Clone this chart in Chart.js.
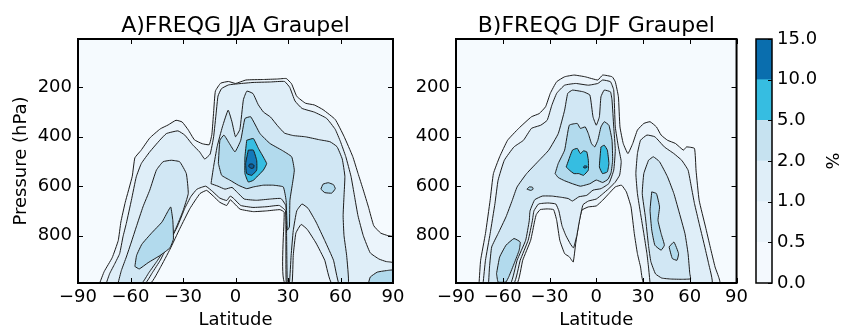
<!DOCTYPE html>
<html>
<head>
<meta charset="utf-8">
<script src="https://cdn.jsdelivr.net/npm/chart.js@4.4.1/dist/chart.umd.min.js"></script>
<style>
  html, body { margin: 0; padding: 0; background: #fff; }
  #wrap { position: relative; width: 842px; height: 331px; overflow: hidden; }
  #wrap canvas { position: absolute; top: 0; }
</style>
</head>
<body>
<div id="wrap">
  <canvas id="jja" width="420" height="331" style="left:0"></canvas>
  <canvas id="djf" width="352" height="331" style="left:400px"></canvas>
  <canvas id="cbar" width="90" height="331" style="left:752px"></canvas>
</div>
<script>
// axes
const latTicks = [-90, -60, -30, 0, 30, 60, 90];
const pressureTicks = [200, 400, 600, 800];
const levelLabels = ['0.0', '0.5', '1.0', '2.0', '5.0', '10.0', '15.0'];
const barColors = ['#f4f9fe', '#ebf4fb', '#dfeef8', '#c6e2f0', '#36bde1', '#0a6eae'];
// fill used inside a contour of level index n (0 = background)
const plotFills = ['#f5fafe', '#ebf4fb', '#dfeef8', '#d1e7f4', '#b2daed', '#36bde1', '#1379b9', '#0c5c98'];

// ---- A) JJA contours, [latitude, pressure] ----
const jjaL1 = [[-77.6,992],[-75,945],[-70.5,890],[-67,820],[-65.5,745],[-63,665],[-59,560],[-57.5,485],[-54,455],[-49,405],[-43,368],[-38.5,352],[-34,333],[-30.5,340],[-27,372],[-23.5,412],[-19,428],[-15,432],[-13.5,390],[-12.5,300],[-11.5,215],[-8.5,183],[-4,176],[0,184],[6,170],[16,168],[24,166],[29,164],[32,185],[35,236],[40,264],[45,271],[50,290],[57,330],[62,398],[67,480],[70,548],[73,615],[76,685],[79,760],[83,790],[87,800],[90,805],[90,992],
  [28.3,992],[27.8,705],[25.4,695],[17.8,700],[10.2,703],[2.6,693],[-1,668],[-3,655],[-5,678],[-9,665],[-12.7,640],[-16.5,617],[-20.3,630],[-26,690],[-31.7,770],[-37.4,855],[-43,930],[-48.5,992]];
const jjaL2 = [[-73.8,992],[-71.9,954],[-69,914],[-66.2,873],[-64.3,805],[-62.4,751],[-59.5,657],[-56.7,562],[-53.8,508],[-49,461],[-43.3,414],[-39.5,387],[-32.9,376],[-29,393],[-24.3,434],[-20.5,461],[-17.6,490],[-14.5,470],[-12.5,400],[-11,300],[-10,235],[-8,205],[-4,190],[2,185],[10,180],[20,178],[28,176],[31,200],[34,255],[38,285],[45,300],[52,325],[57,370],[60,420],[63,480],[66,560],[68,640],[70,720],[73,800],[77,870],[82,895],[86,905],[90,910],[90,992],
  [55,992],[51,900],[46,830],[41,775],[37.5,755],[34.5,790],[33,880],[32.3,992],
  [29,992],[28.6,700],[25,678],[18,683],[10,686],[3,678],[-1,650],[-3,640],[-5,658],[-9,648],[-13,622],[-17,600],[-22,612],[-25.5,642],[-29,690],[-33,760],[-38,830],[-43,900],[-47.5,950],[-51.5,992]];
const jjaL3a = [[-67.1,992],[-65.2,941],[-62.4,887],[-59.5,826],[-56.7,765],[-52.9,684],[-49,616],[-45.2,535],[-41.4,501],[-36.7,495],[-31.9,501],[-28.1,549],[-27,630],[-30,700],[-34,770],[-39,840],[-45,905],[-49.5,950],[-53.5,992]];
const jjaL3b = [[-14,590],[-12.5,520],[-10.5,440],[-7.5,360],[-4.2,292],[-2,340],[0,400],[2.5,370],[4.5,250],[6.5,215],[10,225],[13,270],[16,300],[20,320],[24,355],[28,385],[33,395],[40,400],[48,412],[54,420],[58,440],[61,490],[62.5,560],[62,640],[61.5,720],[62,800],[63.5,880],[64.5,992],
  [59,992],[56,900],[51,820],[46,745],[41.5,690],[38,672],[35,700],[33,780],[31.8,880],[30.8,992],
  [29.6,992],[29.2,800],[28.8,680],[26,650],[20,652],[12,657],[5,652],[1,625],[-2,605],[-6,612],[-10,600]];
const jjaL4a = [[-57.5,925],[-56.5,880],[-53.5,835],[-48,790],[-42,745],[-38.5,700],[-37,684],[-35.8,740],[-35.5,815],[-37.5,850],[-43,880],[-50,910],[-55,935]];
const jjaL4b = [[-9.8,508],[-8.9,414],[-6.6,393],[-3.5,427],[-0.3,461],[3,414],[5.4,326],[8.7,319],[14,387],[19.7,427],[26.4,454],[32.1,481],[33.6,535],[32.7,583],[31.1,657],[30.8,765],[29.6,778],[28.9,657],[27.3,603],[21.6,596],[15.9,596],[10.2,603],[6.4,610],[1.6,596],[-3.1,576],[-7.9,556]];
const jjaL4c = [[48.8,612],[50,592],[53,586],[56,594],[57,610],[55,628],[51,626]];
const jjaL4d = [[76,992],[77,968],[81,948],[86,942],[90,940],[90,992]];
const jjaL5 = [[6.4,414],[10.2,407],[13.1,447],[17.8,508],[15.9,535],[10.2,576],[7.3,583],[5.4,549],[5.4,481]];
const jjaL6 = [[7.3,454],[10.2,454],[12.1,495],[12.1,535],[9.3,556],[6.4,549],[5.8,508]];
const jjaL7 = [[7.5,519],[8,511],[9.5,510],[10.6,516],[10.3,526],[8.8,528]];

// ---- B) DJF contours ----
const djfL1 = [[-75.2,992],[-74.2,900],[-71.1,792],[-68.1,657],[-66,549],[-62,481],[-56.9,414],[-49.8,366],[-41.6,319],[-36.6,306],[-32.5,278],[-29.5,224],[-25.4,177],[-20.3,157],[-14.2,150],[-7.1,157],[1,170],[4.1,150],[10.2,157],[12.2,177],[14.2,238],[15.2,360],[17.3,427],[20.3,468],[23.4,427],[26.4,373],[30.5,346],[34.5,339],[38.6,360],[41.6,393],[45.7,414],[50.8,427],[55.9,454],[57.9,441],[63,447],[64,535],[66,657],[70.1,765],[73.1,846],[76.2,927],[79.2,992],
  [30.5,992],[28.4,927],[26.4,873],[24.4,792],[22.3,684],[19.3,623],[16.2,596],[12.2,603],[8.1,630],[4.1,657],[0,680],[-5.1,684],[-9.2,697],[-11.2,751],[-13.2,832],[-14.8,907],[-17.3,886],[-20.3,873],[-23.4,819],[-25.4,738],[-27.4,695],[-31.5,692],[-36,695],[-38.5,715],[-39.5,740],[-42.1,819],[-47.2,900],[-50.8,992]];
const djfL2a = [[-72.6,992],[-71.1,900],[-68.1,792],[-65,670],[-63,576],[-59,495],[-52.8,441],[-46.7,414],[-41.6,366],[-35.6,353],[-31.5,333],[-28.5,272],[-25.4,224],[-20.3,191],[-13.2,184],[-5.1,191],[1,184],[4.1,170],[9.1,177],[11.2,211],[12.2,360],[14.2,441],
  [16,500],[15,555],[12,585],[8,610],[4,632],[0,652],[-5,660],[-8.5,675],[-10.5,730],[-12.5,800],[-14.6,850],[-16.5,835],[-19.5,800],[-22,760],[-24,700],[-26,672],[-31,668],[-37,672],[-40,700],[-41,740],[-43.7,819],[-48.8,900],[-52.8,992]];
const djfL2b = [[34.5,992],[33.5,927],[32.5,873],[30.5,792],[28.4,711],[26.4,630],[25.4,549],[26.4,468],[28.4,414],[32.5,393],[37.6,400],[43.7,441],[49.8,468],[54.8,495],[58.9,535],[61,603],[63,670],[66,751],[69.1,832],[72.1,914],[74.2,992]];
const djfL3a = [[-69.1,992],[-68.5,927],[-67.1,846],[-63,792],[-57.9,724],[-53.9,657],[-50.8,603],[-44.7,549],[-36.6,495],[-30.5,454],[-24.4,387],[-20.3,292],[-18.3,224],[-15.3,211],[-8.2,218],[-4.1,231],[-2.1,319],[0,353],[2,319],[3,238],[5.1,211],[9.1,218],[10.1,251],[11.2,360],[12.2,454],
  [11.2,535],[8.1,589],[3,610],[-2.1,616],[-6.1,637],[-11.2,643],[-15.3,660],[-18,650],[-22.4,645],[-28.5,640],[-34.6,640],[-39.5,655],[-42.5,700],[-43,740],[-45.3,819],[-50.8,900],[-54.9,992]];
const djfL3b = [[33.5,495],[36.6,481],[40.6,501],[45.7,562],[49.8,630],[52.8,697],[56.9,792],[58.9,873],[60,954],[60.5,975],[55,977],[48,976],[42,972],[38,955],[35,905],[33.5,840],[31.5,724],[29.5,630],[30.5,549]];
const djfL4a = [[-64,954],[-62,887],[-57.9,839],[-52.8,812],[-48.8,826],[-49.5,860],[-52.5,910],[-56,965],[-58,988],[-63,988]];
const djfL4b = [[-44.5,612],[-43,603],[-41,604],[-40.5,612],[-42,617]];
const djfL4c = [[-26.4,549],[-24.4,508],[-20.3,454],[-17.3,353],[-12.2,346],[-10.2,366],[-7.1,360],[-5.1,387],[-3.1,427],[-1,441],[1,414],[3,360],[5.1,339],[8.1,353],[10.1,414],[10.5,495],[9.5,545],[7.5,572],[4.1,585],[0,575],[-4.1,590],[-10.2,600],[-15.3,590],[-20.3,578],[-24.4,565]];
const djfL4d = [[35.6,623],[38.6,630],[40.6,684],[39.6,738],[41.6,792],[43.7,839],[41.6,859],[37.6,839],[35.6,778],[34.5,697]];
const djfL4e = [[46.7,846],[49.8,826],[52.8,873],[51.8,900],[48.8,893]];
const djfL5a = [[-19.3,522],[-15.3,454],[-12.2,447],[-10.2,468],[-8.2,457],[-6.1,461],[-5.1,495],[-5.1,535],[-8.2,556],[-11.2,549],[-14.3,549],[-17.3,535]];
const djfL5b = [[3,441],[5.1,434],[7.1,454],[8.1,508],[7.1,542],[4,549],[2,522]];
const djfL6 = [[-8.3,522],[-7.6,518],[-6.2,518],[-5.9,523],[-6.8,526],[-7.9,526]];

const jjaShapes = [[1, jjaL1], [2, jjaL2], [3, jjaL3a], [3, jjaL3b], [4, jjaL4a], [4, jjaL4b], [4, jjaL4c], [4, jjaL4d], [5, jjaL5], [6, jjaL6], [7, jjaL7]];
const djfShapes = [[1, djfL1], [2, djfL2a], [2, djfL2b], [3, djfL3a], [3, djfL3b], [4, djfL4a], [4, djfL4b], [4, djfL4c], [4, djfL4d], [4, djfL4e], [5, djfL5a], [5, djfL5b], [6, djfL6]];

Chart.defaults.font.family = '"DejaVu Sans", sans-serif';
Chart.defaults.color = '#000';

const fmtNum = (v) => String(v).replace('-', '\u2212');

// background, inward ticks, frame and title
const framePlugin = {
  id: 'frame',
  beforeDraw(chart, args, opts) {
    const { ctx, chartArea: a } = chart;
    if (!opts.bg) return;
    ctx.save();
    ctx.fillStyle = opts.bg;
    ctx.fillRect(a.left, a.top, a.right - a.left, a.bottom - a.top);
    ctx.restore();
  },
  afterDraw(chart, args, opts) {
    const { ctx, chartArea: a, scales } = chart;
    const len = 5;
    ctx.save();
    ctx.strokeStyle = '#000';
    ctx.lineWidth = 1;
    ctx.beginPath();
    const sides = opts.sides || [];
    if (sides.includes('x')) {
      scales.x.ticks.forEach((t) => {
        const px = Math.round(scales.x.getPixelForValue(t.value)) + 0.5;
        ctx.moveTo(px, a.bottom); ctx.lineTo(px, a.bottom - len);
        ctx.moveTo(px, a.top); ctx.lineTo(px, a.top + len);
      });
    }
    if (sides.includes('y')) {
      scales.y.ticks.forEach((t) => {
        const py = Math.round(scales.y.getPixelForValue(t.value)) + 0.5;
        ctx.moveTo(a.left, py); ctx.lineTo(a.left + len, py);
        ctx.moveTo(a.right, py); ctx.lineTo(a.right - len, py);
      });
    }
    if (sides.includes('right')) {
      scales.y.ticks.forEach((t) => {
        const py = Math.round(scales.y.getPixelForValue(t.value)) + 0.5;
        ctx.moveTo(a.right, py); ctx.lineTo(a.right - 4, py);
      });
    }
    ctx.stroke();
    ctx.lineWidth = opts.width || 2;
    ctx.strokeRect(a.left, a.top, a.right - a.left, a.bottom - a.top);
    if (opts.title) {
      ctx.fillStyle = '#000';
      ctx.font = '22px "DejaVu Sans"';
      ctx.textAlign = 'center';
      ctx.textBaseline = 'alphabetic';
      ctx.fillText(opts.title, (a.left + a.right) / 2, 31.5);
    }
    ctx.restore();
  }
};

function shapeSet(level, pts) {
  const closed = pts.concat([pts[0]]);
  return {
    data: closed.map(([x, y]) => ({ x, y })),
    backgroundColor: plotFills[level],
    borderColor: '#1c1c1c',
    borderWidth: 1,
    fill: 'shape',
    pointRadius: 0,
    pointHoverRadius: 0,
    tension: 0.12,
    order: 10 - level
  };
}

function panel(id, title, shapes, yWidth, yTitle, padRight) {
  return new Chart(document.getElementById(id), {
    type: 'line',
    data: { datasets: shapes.map(([lv, pts]) => shapeSet(lv, pts)) },
    options: {
      responsive: false,
      animation: false,
      events: [],
      layout: { padding: { left: 0, top: 39, right: padRight, bottom: 0 } },
      plugins: {
        legend: { display: false },
        tooltip: { enabled: false },
        filler: { propagate: false, drawTime: 'beforeDatasetDraw' },
        frame: { bg: plotFills[0], sides: ['x', 'y'], width: 2, title: title }
      },
      scales: {
        x: {
          type: 'linear', min: -90, max: 90,
          afterBuildTicks: (s) => { s.ticks = latTicks.map((v) => ({ value: v })); },
          afterFit: (s) => { s.height = 48; },
          grid: { display: false, drawTicks: false },
          border: { display: false },
          ticks: { callback: fmtNum, font: { size: 18 }, padding: 4, maxRotation: 0, autoSkip: false },
          title: { display: true, text: 'Latitude', font: { size: 18, lineHeight: 1.2 }, padding: { top: 0, bottom: 0 } }
        },
        y: {
          type: 'linear', min: 4, max: 992, reverse: true,
          afterBuildTicks: (s) => { s.ticks = pressureTicks.map((v) => ({ value: v })); },
          afterFit: (s) => { s.width = yWidth; },
          grid: { display: false, drawTicks: false },
          border: { display: false },
          ticks: { font: { size: 18 }, padding: 6, autoSkip: false },
          title: { display: yTitle, text: 'Pressure (hPa)', font: { size: 18, lineHeight: 1.2 }, padding: { top: 11, bottom: 0 } }
        }
      }
    },
    plugins: [framePlugin]
  });
}

panel('jja', 'A)FREQG JJA Graupel', jjaShapes, 78, true, 27);
panel('djf', 'B)FREQG DJF Graupel', djfShapes, 56, false, 1);

// colour bar
new Chart(document.getElementById('cbar'), {
  type: 'bar',
  data: {
    labels: [''],
    datasets: barColors.map((c) => ({ data: [1], backgroundColor: c, borderWidth: 0, barPercentage: 1, categoryPercentage: 1 }))
  },
  options: {
    responsive: false,
    animation: false,
    events: [],
    layout: { padding: { left: 4, top: 39, right: 0, bottom: 48 } },
    plugins: {
      legend: { display: false },
      tooltip: { enabled: false },
      frame: { sides: ['right'], width: 1.5 }
    },
    scales: {
      x: { stacked: true, display: false },
      y: {
        stacked: true, position: 'right', min: 0, max: 6,
        afterBuildTicks: (s) => { s.ticks = levelLabels.map((_, i) => ({ value: i })); },
        afterFit: (s) => { s.width = 70; },
        grid: { display: false, drawTicks: false },
        border: { display: false },
        ticks: { callback: (v) => levelLabels[v], font: { size: 18 }, padding: 5, autoSkip: false },
        title: { display: true, text: '%', font: { size: 18, lineHeight: 1.2 }, padding: { top: 1, bottom: 0 } }
      }
    }
  },
  plugins: [framePlugin]
});
</script>
</body>
</html>
